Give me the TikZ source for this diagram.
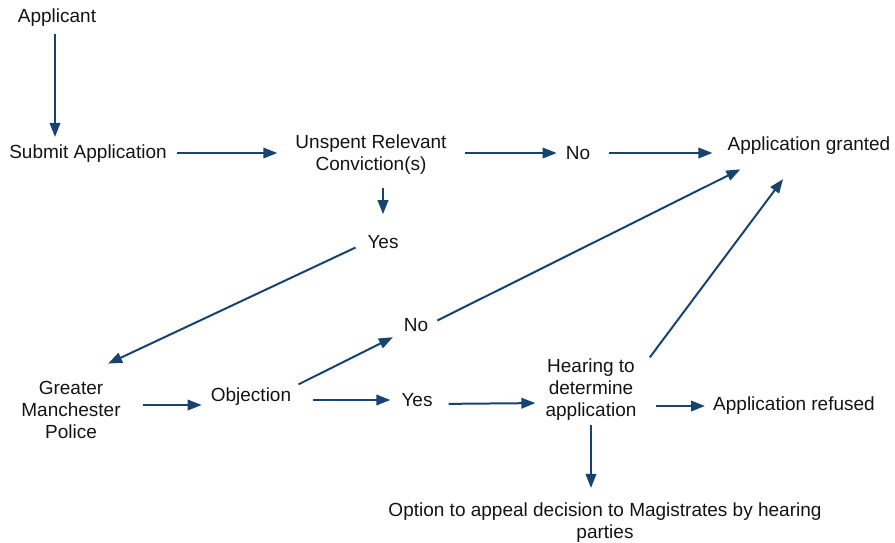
\documentclass[tikz,border=0pt]{standalone}
\usepackage{fontspec}
\setmainfont{Liberation Sans}
\usetikzlibrary{arrows.meta}
\definecolor{arrowblue}{RGB}{23,67,112}
\definecolor{txt}{RGB}{20,20,20}
\begin{document}
\begin{tikzpicture}[x=1pt,y=-1pt,
  every node/.style={font=\fontsize{19}{22}\selectfont, inner sep=0pt, text=txt},
  arr/.style={draw=arrowblue, line width=2pt, -{Triangle[length=14pt,width=10.5pt]}}]
\useasboundingbox (0,0) rectangle (895,542);
\node (app) at (57,18) {Applicant};
\node (sub) at (88,154) {Submit Application};
\node[align=center] (urc) at (371,155) {Unspent Relevant\\Conviction(s)};
\node (no1) at (578,153) {No};
\node (grant) at (809,146) {Application granted};
\node (yes1) at (383,242) {Yes};
\node (no2) at (416,325) {No};
\node[align=center] (gmp) at (71,410) {Greater\\Manchester\\Police};
\node (obj) at (251,397) {Objection};
\node (yes2) at (417,400) {Yes};
\node[align=center] (hear) at (591,390) {Hearing to\\determine\\application};
\node (ref) at (794,406) {Application refused};
\node[align=center] (appeal) at (605,523) {Option to appeal decision to Magistrates by hearing\\parties};

\draw[arr, shorten <=7pt, shorten >=8pt] ([xshift=-2pt]app.south) -- ([xshift=-2pt]app.south |- sub.north);
\draw[arr, shorten <=10pt, shorten >=18pt] ([yshift=1pt]sub.east) -- ([yshift=1pt]sub.east -| urc.west);
\draw[arr, shorten <=18pt, shorten >=9pt] (no1.west -| urc.east) -- (no1.west);
\draw[arr, shorten <=19pt, shorten >=15pt] (no1.east) -- (no1.east -| grant.west);
\draw[arr, shorten <=13pt, shorten >=21pt] (yes1.north |- urc.south) -- (yes1.north);
\draw[arr, shorten <=13pt, shorten >=41pt] (yes1.west) -- (gmp.north);
\draw[arr, shorten <=22pt, shorten >=9pt] ([yshift=5pt]gmp.east) -- ([yshift=5pt]gmp.east -| obj.west);
\draw[arr, shorten <=8pt, shorten >=12pt] (obj.north east) -- (no2.south west);
\draw[arr, shorten <=10pt, shorten >=32pt] (no2.east) -- ([xshift=-40pt]grant.south);
\draw[arr, shorten <=22pt, shorten >=11pt] (yes2.west -| obj.east) -- (yes2.west);
\draw[arr, shorten <=16pt, shorten >=10pt] ([yshift=-4pt]yes2.east) -- ([yshift=-13pt]hear.west);
\draw[arr, shorten <=2pt, shorten >=30pt] ([xshift=12pt]hear.north east) -- ([xshift=-8pt]grant.south);
\draw[arr, shorten <=19pt, shorten >=8pt] (hear.east |- ref.west) -- (ref.west);
\draw[arr, shorten <=4pt, shorten >=15pt] (hear.south) -- (hear.south |- appeal.north);
\end{tikzpicture}
\end{document}
